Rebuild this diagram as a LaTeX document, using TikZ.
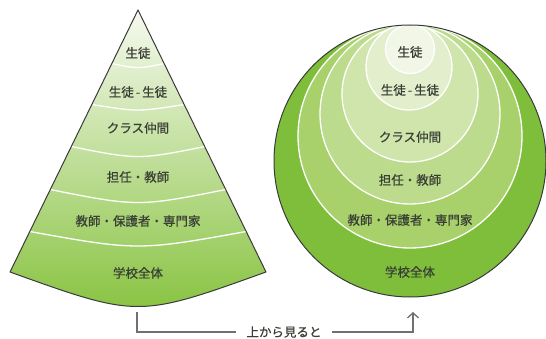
\documentclass[tikz,border=0pt]{standalone}
\usepackage{fontspec}
\newfontfamily\jp[FakeBold=0.6]{Noto Sans CJK JP}
\usetikzlibrary{arrows.meta}
\definecolor{txt}{HTML}{3A3F35}
\definecolor{edge}{HTML}{3A3A3A}
\definecolor{conetop}{HTML}{F6F9EF}
\definecolor{conemid}{HTML}{D4E8B4}
\definecolor{conebot}{HTML}{86C23E}
\definecolor{ring0}{HTML}{7EBE3A}
\definecolor{ring5}{HTML}{A8D16B}
\definecolor{ring4}{HTML}{BCDB8C}
\definecolor{ring3}{HTML}{CFE5AC}
\definecolor{ring2}{HTML}{E2EECC}
\definecolor{ring1}{HTML}{F1F6E7}
\definecolor{conn}{HTML}{707070}
\begin{document}
\begin{tikzpicture}[x=1pt,y=-1pt,
  lbl/.style={font=\jp\fontsize{12.5}{14}\selectfont, text=txt, inner sep=0pt},
  sepline/.style={draw=white, line width=1.3pt},
  ringline/.style={draw=white, line width=1.3pt},
  connline/.style={draw=conn, line width=1.3pt}]
\useasboundingbox (0,0) rectangle (546,339);
% ---- cone ----
\def\conepath{(10,272) -- (138,10) -- (266,272) .. controls (138,318) .. (10,272) -- cycle}
\shade[top color=conetop, middle color=conemid, bottom color=conebot] \conepath;
\begin{scope}
  \clip \conepath;
  \foreach \e/\s in {63/3,104/4,146/7,189/9,231/10}{
    \pgfmathsetmacro{\w}{0.48855*(\e-10)+3}
    \pgfmathsetmacro{\xl}{138-\w}
    \pgfmathsetmacro{\xr}{138+\w}
    \pgfmathsetmacro{\cy}{\e+2*\s}
    \draw[sepline] (\xl,\e) .. controls (138,\cy) .. (\xr,\e);
  }
\end{scope}
\draw[edge, line width=1pt, line join=round] \conepath;
\node[lbl] (k1) at (138,53) {生徒};
\node[lbl] (k2) at (138,92) {生徒\kern2pt-\kern2pt生徒};
\node[lbl] (k3) at (138,128) {クラス仲間};
\node[lbl] (k4) at (138,177) {担任・教師};
\node[lbl] (k5) at (138,221) {教師・保護者・専門家};
\node[lbl] (k6) at (138,273) {学校全体};
% ---- circles ----
\fill[ring0] (410,161) circle (136pt);
\filldraw[fill=ring5, ringline] (410,136) circle (112pt);
\filldraw[fill=ring4, ringline] (410,114) circle (90pt);
\filldraw[fill=ring3, ringline] (410,94) circle (68pt);
\filldraw[fill=ring2, ringline] (409,67) circle (43pt);
\filldraw[fill=ring1, ringline] (410,49) circle (24.5pt);
\draw[edge, line width=1pt] (410,161) circle (136pt);
\node[lbl] (c1) at (410,52) {生徒};
\node[lbl] (c2) at (410,90) {生徒\kern2pt-\kern2pt生徒};
\node[lbl] (c3) at (410,137) {クラス仲間};
\node[lbl] (c4) at (410,180) {担任・教師};
\node[lbl] (c5) at (410,220) {教師・保護者・専門家};
\node[lbl] (c6) at (410,272) {学校全体};
% ---- connector ----
\coordinate (a) at (137,312);
\coordinate (b) at (413,312);
\node[lbl, inner xsep=10pt] (view) at (284,332) {上から見ると};
\draw[connline] (a) |- (view.west);
\draw[connline, -{Straight Barb[length=5pt,width=11pt]}] (view.east) -| (b);
\end{tikzpicture}
\end{document}
